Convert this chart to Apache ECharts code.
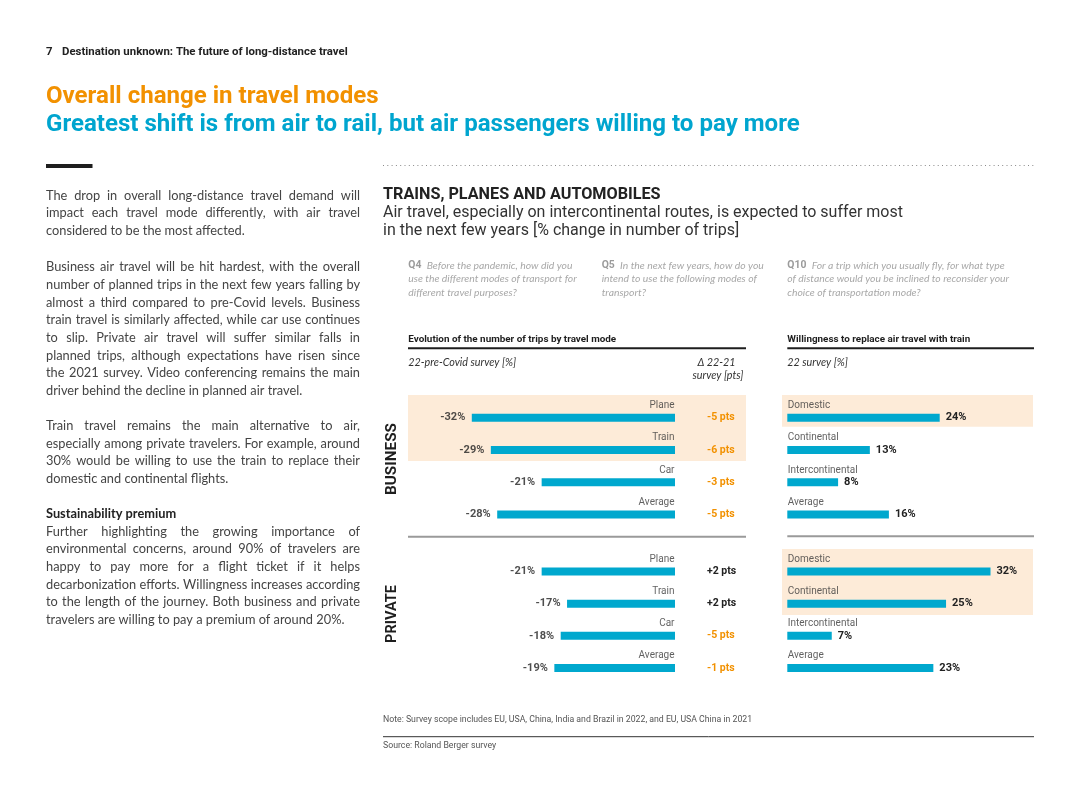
<!DOCTYPE html>
<html>
<head>
<meta charset="utf-8">
<script src="https://cdn.jsdelivr.net/npm/echarts@6/dist/echarts.min.js"></script>
<style>
html,body{margin:0;padding:0;background:#ffffff;}
#main{width:1080px;height:810px;}
</style>
</head>
<body>
<div id="main"></div>
<script>
// ---------- DATA ----------
const modeCategories = ['Plane', 'Train', 'Car', 'Average'];
const businessChange = [-32, -29, -21, -28];
const businessDelta = [-5, -6, -3, -5];
const privateChange = [-21, -17, -18, -19];
const privateDelta = [2, 2, -5, -1];
const distanceCategories = ['Domestic', 'Continental', 'Intercontinental', 'Average'];
const businessReplace = [24, 13, 8, 16];
const privateReplace = [32, 25, 7, 23];

// ---------- TEXTS ----------
const pageHeader = 'Destination unknown: The future of long-distance travel';
const titleLine1 = 'Overall change in travel modes';
const titleLine2 = 'Greatest shift is from air to rail, but air passengers willing to pay more';
const para1 = [
  'The drop in overall long-distance travel demand will',
  'impact each travel mode differently, with air travel',
  'considered to be the most affected.'
];
const para2 = [
  'Business air travel will be hit hardest, with the overall',
  'number of planned trips in the next few years falling by',
  'almost a third compared to pre-Covid levels. Business',
  'train travel is similarly affected, while car use continues',
  'to slip. Private air travel will suffer similar falls in',
  'planned trips, although expectations have risen since',
  'the 2021 survey. Video conferencing remains the main',
  'driver behind the decline in planned air travel.'
];
const para3 = [
  'Train travel remains the main alternative to air,',
  'especially among private travelers. For example, around',
  '30% would be willing to use the train to replace their',
  'domestic and continental flights.'
];
const para4Heading = 'Sustainability premium';
const para4 = [
  'Further highlighting the growing importance of',
  'environmental concerns, around 90% of travelers are',
  'happy to pay more for a flight ticket if it helps',
  'decarbonization efforts. Willingness increases according',
  'to the length of the journey. Both business and private',
  'travelers are willing to pay a premium of around 20%.'
];
const chartHeading = 'TRAINS, PLANES AND AUTOMOBILES';
const chartSub = [
  'Air travel, especially on intercontinental routes, is expected to suffer most',
  'in the next few years [% change in number of trips]'
];
const q4 = ['Before the pandemic, how did you', 'use the different modes of transport for', 'different travel purposes?'];
const q5 = ['In the next few years, how do you', 'intend to use the following modes of', 'transport?'];
const q10 = ['For a trip which you usually fly, for what type', 'of distance would you be inclined to reconsider your', 'choice of transportation mode?'];
const noteText = 'Note: Survey scope includes EU, USA, China, India and Brazil in 2022, and EU, USA China in 2021';
const sourceText = 'Source: Roland Berger survey';

// ---------- STYLE ----------
const BLUE = '#00A8CE';
const TITLE_BLUE = '#00A5CF';
const ORANGE = '#F29100';
const PEACH = '#FDEBD8';
const HEAD = 'Roboto';
const BODY = 'Lato';
const ITAL = 'Lato';

const ctx = document.createElement('canvas').getContext('2d');
function fnt(size, weight, family, style) {
  return (style || 'normal') + ' ' + (weight || 'normal') + ' ' + size.toFixed(2) + 'px ' + family;
}
function measure(text, font) { ctx.font = font; return ctx.measureText(text).width; }
function fit(text, width, weight, family, style) {
  return 20 * width / measure(text, fnt(20, weight, family, style));
}

const G = [];
function txt(x, y, text, o) {
  o = o || {};
  G.push({
    type: 'text', x: x, y: y, rotation: o.rotation || 0, z: 10, silent: true,
    style: {
      text: text, font: o.font, fill: o.fill || '#333',
      align: o.align || 'left', verticalAlign: 'middle', rich: o.rich
    }
  });
}
function rect(x, y, w, h, fill) {
  G.push({ type: 'rect', z: 0, silent: true, shape: { x: x, y: y, width: w, height: h }, style: { fill: fill } });
}
function line(x1, y1, x2, y2, stroke, lw, dash) {
  G.push({ type: 'line', z: 1, silent: true, shape: { x1: x1, y1: y1, x2: x2, y2: y2 },
    style: { stroke: stroke, lineWidth: lw, lineDash: dash || null } });
}
function para(lines, x, y0, pitch, width, font, color) {
  lines.forEach(function (ln, i) {
    const y = y0 + i * pitch;
    if (i === lines.length - 1) { txt(x, y, ln, { font: font, fill: color }); return; }
    const words = ln.split(' ');
    const ws = words.map(function (w) { return measure(w, font); });
    const gap = (width - ws.reduce(function (a, b) { return a + b; }, 0)) / (words.length - 1);
    let cx = x;
    words.forEach(function (w, k) { txt(cx, y, w, { font: font, fill: color }); cx += ws[k] + gap; });
  });
}

// ---------- PAGE HEADER / TITLES ----------
const hdrSize = fit(pageHeader, 286, 'bold', HEAD);
txt(46, 52, '7', { font: fnt(hdrSize, 'bold', HEAD), fill: '#222' });
txt(62, 52, pageHeader, { font: fnt(hdrSize, 'bold', HEAD), fill: '#222' });

const tSize = (fit(titleLine1, 333, 'bold', HEAD) + fit(titleLine2, 753, 'bold', HEAD)) / 2;
txt(46, 97, titleLine1, { font: fnt(tSize, 'bold', HEAD), fill: ORANGE });
txt(46, 124.5, titleLine2, { font: fnt(tSize, 'bold', HEAD), fill: TITLE_BLUE });

rect(46, 164, 46.5, 4, '#1e1e1e');
line(383, 165.5, 1035, 165.5, '#8a8a8a', 1, [1, 3.3]);

// ---------- LEFT BODY TEXT ----------
const bSize = (fit(para2[7], 252.7, 'normal', BODY) + fit(para1[2], 202, 'normal', BODY)) / 2;
const bFont = fnt(bSize, 'normal', BODY);
const bColor = '#444444';
para(para1, 46, 195.7, 17.65, 314, bFont, bColor);
para(para2, 46, 267.3, 17.63, 314, bFont, bColor);
para(para3, 46, 426, 17.67, 314, bFont, bColor);
txt(46, 514.3, para4Heading, { font: fnt(bSize, 'bold', BODY), fill: '#222' });
para(para4, 46, 531.7, 17.66, 314, bFont, bColor);

// ---------- CHART HEADING ----------
txt(383, 195, chartHeading, { font: fnt(fit(chartHeading, 278, 'bold', HEAD), 'bold', HEAD), fill: '#222' });
const subSize = fit(chartSub[0], 520, 'normal', HEAD);
txt(383, 213, chartSub[0], { font: fnt(subSize, 'normal', HEAD), fill: '#333' });
txt(383, 231, chartSub[1], { font: fnt(subSize, 'normal', HEAD), fill: '#333' });

// ---------- QUESTIONS ----------
const qSize = fit(q10[1], 222, 'normal', ITAL, 'italic');
const qRich = {
  q: { fontFamily: HEAD, fontWeight: 'bold', fontSize: qSize, fill: '#9b9b9b' },
  t: { fontFamily: ITAL, fontStyle: 'italic', fontSize: qSize, fill: '#a8a8a8' }
};
function question(x, label, lines) {
  lines.forEach(function (ln, i) {
    const s = i === 0 ? '{q|' + label + '}  {t|' + ln + '}' : '{t|' + ln + '}';
    txt(x, 265.7 + i * 13.3, s, { rich: qRich, font: fnt(qSize, 'normal', ITAL) });
  });
}
question(408.3, 'Q4', q4);
question(601.7, 'Q5', q5);
question(787.3, 'Q10', q10);

// ---------- PANEL HEADERS ----------
const phSize = fit('Evolution of the number of trips by travel mode', 208, 'bold', HEAD);
txt(408.3, 339.3, 'Evolution of the number of trips by travel mode', { font: fnt(phSize, 'bold', HEAD), fill: '#1e1e1e' });
txt(787.3, 339.3, 'Willingness to replace air travel with train', { font: fnt(phSize, 'bold', HEAD), fill: '#1e1e1e' });
line(408, 348.3, 746, 348.3, '#1e1e1e', 2);
line(787.3, 348.3, 1034, 348.3, '#1e1e1e', 2);
const itFont = fnt(qSize * 1.04, 'normal', ITAL, 'italic');
txt(408.3, 362.3, '22-pre-Covid survey [%]', { font: itFont, fill: '#333' });
txt(716.5, 362.3, '\u0394 22-21', { font: itFont, fill: '#333', align: 'center' });
txt(718, 376, 'survey [pts]', { font: itFont, fill: '#333', align: 'center' });
txt(787.3, 362.7, '22 survey [%]', { font: itFont, fill: '#333' });

// highlight backgrounds
rect(408, 395, 338, 66, PEACH);
rect(782, 395, 251, 31.7, PEACH);
rect(782, 549, 251, 66, PEACH);

// separators
line(408, 536.7, 746, 536.7, '#9a9a9a', 2);
line(787.3, 536.3, 1034, 536.3, '#9a9a9a', 2);

// side labels
txt(392.5, 459, 'BUSINESS', { font: fnt(fit('BUSINESS', 72, 'bold', HEAD), 'bold', HEAD), fill: '#1e1e1e', align: 'center', rotation: Math.PI / 2 });
txt(392.5, 614, 'PRIVATE', { font: fnt(fit('PRIVATE', 58, 'bold', HEAD), 'bold', HEAD), fill: '#1e1e1e', align: 'center', rotation: Math.PI / 2 });

// footer
const nSize = fit(noteText, 369, 'normal', HEAD);
txt(383, 720, noteText, { font: fnt(nSize, 'normal', HEAD), fill: '#555' });
line(383, 736.7, 1034, 736.7, '#333', 1);
txt(383, 745.7, sourceText, { font: fnt(nSize, 'normal', HEAD), fill: '#555' });

// ---------- CHART ----------
const grids = [
  { left: 421, width: 254, top: 401.5, height: 129 },
  { left: 421, width: 254, top: 555.5, height: 128.5 },
  { left: 787.3, width: 254, top: 401.5, height: 129 },
  { left: 787.3, width: 254, top: 555.5, height: 128.5 }
];
const xAxes = [0, 1, 2, 3].map(function (i) {
  return { gridIndex: i, type: 'value', min: i < 2 ? -40 : 0, max: i < 2 ? 0 : 40, show: false };
});
function deltaAxis(i, deltas) {
  return {
    gridIndex: i, type: 'category', data: modeCategories, inverse: true, position: 'right',
    axisLine: { show: false }, axisTick: { show: false }, splitLine: { show: false },
    axisLabel: {
      margin: 32, align: 'left',
      formatter: function (v, idx) {
        const d = deltas[idx];
        return d > 0 ? '{pos|+' + d + ' pts}' : '{neg|' + d + ' pts}';
      },
      rich: {
        pos: { color: '#222', fontWeight: 'bold', fontSize: 10.5, fontFamily: HEAD },
        neg: { color: ORANGE, fontWeight: 'bold', fontSize: 10.5, fontFamily: HEAD }
      }
    }
  };
}
const yAxes = [
  deltaAxis(0, businessDelta),
  deltaAxis(1, privateDelta),
  { gridIndex: 2, type: 'category', data: distanceCategories, inverse: true, show: false },
  { gridIndex: 3, type: 'category', data: distanceCategories, inverse: true, show: false }
];

const catLabel = { fontSize: 10, color: '#3a3a3a', fontFamily: HEAD };
const valLabel = { fontSize: 11, color: '#222', fontWeight: 'bold', fontFamily: HEAD };

function leftSeries(i, vals) {
  return [
    { type: 'bar', xAxisIndex: i, yAxisIndex: i, data: vals, barWidth: 8, itemStyle: { color: BLUE }, silent: true },
    {
      type: 'scatter', xAxisIndex: i, yAxisIndex: i, clip: false, silent: true, z: 5,
      data: vals.map(function (v, k) { return [v, modeCategories[k]]; }),
      symbolSize: 1, itemStyle: { color: 'transparent' },
      label: Object.assign({ show: true, position: 'left', distance: 6,
        formatter: function (p) { return vals[p.dataIndex] + '%'; } }, valLabel)
    },
    {
      type: 'scatter', xAxisIndex: i, yAxisIndex: i, clip: false, silent: true, z: 5,
      data: modeCategories.map(function (c) { return [0, c]; }),
      symbolSize: 1, itemStyle: { color: 'transparent' },
      label: Object.assign({ show: true, position: 'left', distance: 0, offset: [0, -12],
        formatter: function (p) { return modeCategories[p.dataIndex]; } }, catLabel)
    }
  ];
}
function rightSeries(i, vals) {
  return [
    {
      type: 'bar', xAxisIndex: i, yAxisIndex: i, data: vals, barWidth: 8, itemStyle: { color: BLUE }, silent: true,
      label: Object.assign({ show: true, position: 'right', distance: 6,
        formatter: function (p) { return vals[p.dataIndex] + '%'; } }, valLabel)
    },
    {
      type: 'scatter', xAxisIndex: i, yAxisIndex: i, clip: false, silent: true, z: 5,
      data: distanceCategories.map(function (c) { return [0, c]; }),
      symbolSize: 1, itemStyle: { color: 'transparent' },
      label: Object.assign({ show: true, position: 'right', distance: 0, offset: [0, -12],
        formatter: function (p) { return distanceCategories[p.dataIndex]; } }, catLabel)
    }
  ];
}

const chart = echarts.init(document.getElementById('main'));
chart.setOption({
  animation: false,
  backgroundColor: '#ffffff',
  grid: grids,
  xAxis: xAxes,
  yAxis: yAxes,
  series: [].concat(
    leftSeries(0, businessChange),
    leftSeries(1, privateChange),
    rightSeries(2, businessReplace),
    rightSeries(3, privateReplace)
  ),
  graphic: { elements: G }
});
</script>
</body>
</html>
